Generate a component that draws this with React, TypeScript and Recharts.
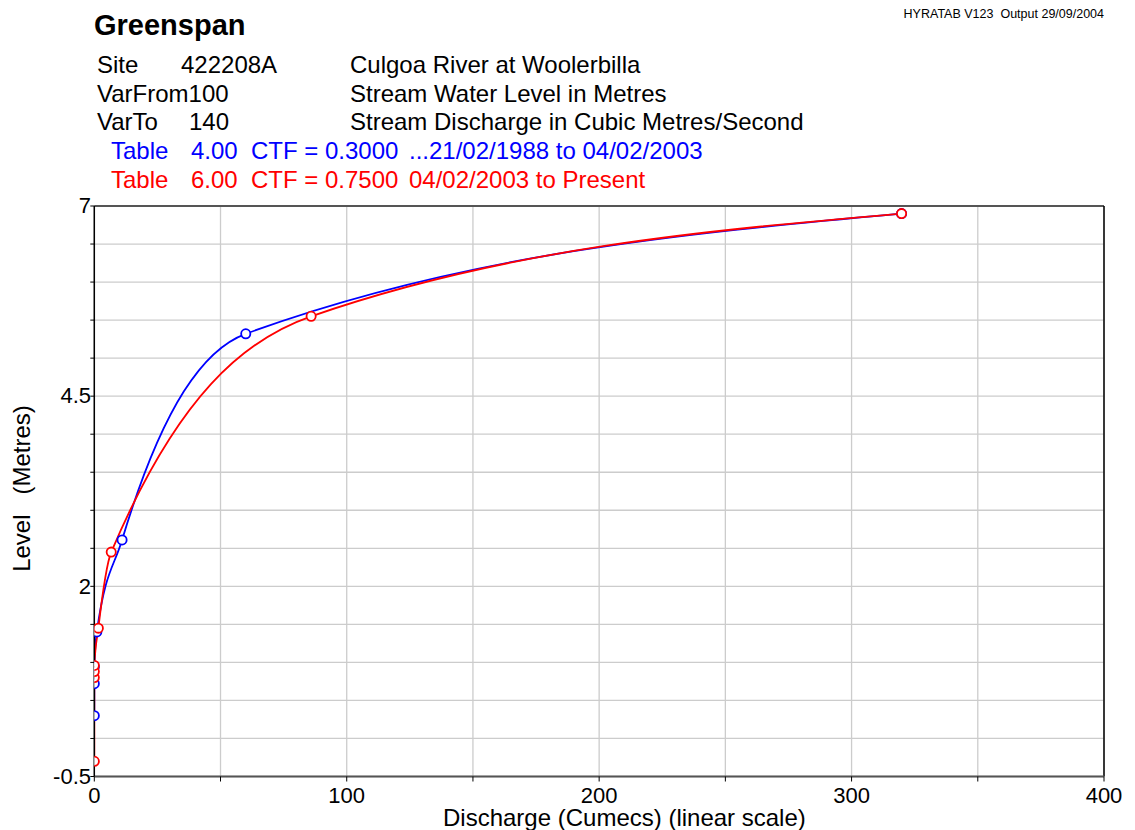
import React from "react";
import { LineChart, Line, XAxis, YAxis, CartesianGrid, ReferenceLine } from "recharts";

// Table 4.00 (blue) and Table 6.00 (red) rating points: discharge (cumecs) vs level (m)
const blueQ = [0, 0, 0, 1.0, 11.0, 60.0, 319.8];
const blueH = [0.3, 0.72, 0.94, 1.4, 2.61, 5.32, 6.9];
const redQ = [0, 0, 0, 0, 1.6, 6.7, 85.9, 319.8];
const redH = [-0.3, 0.8, 0.88, 0.96, 1.45, 2.45, 5.55, 6.9];

const xTicks = [0, 50, 100, 150, 200, 250, 300, 350, 400];
const xLabelled = [0, 100, 200, 300, 400];
const yTicks = [-0.5, 0, 0.5, 1, 1.5, 2, 2.5, 3, 3.5, 4, 4.5, 5, 5.5, 6, 6.5, 7];
const yLabelled = [-0.5, 2, 4.5, 7];

const blueData = blueQ.map((q, i) => ({ q, h: blueH[i] }));
const redData = redQ.map((q, i) => ({ q, h: redH[i] }));

const FONT = '"Liberation Sans", Arial, sans-serif';
const BLUE = "#0000ff";
const RED = "#ff0000";

function XTick(props: any) {
  const { x, y, payload } = props;
  if (!xLabelled.includes(payload.value)) return null;
  return (
    <text x={x} y={y + 19.5} textAnchor="middle" fontSize={22} fontFamily={FONT} fill="#000">
      {payload.value}
    </text>
  );
}

function YTick(props: any) {
  const { y, payload } = props;
  if (!yLabelled.includes(payload.value)) return null;
  return (
    <text x={91} y={y} dy="0.33em" textAnchor="end" fontSize={22} fontFamily={FONT} fill="#000">
      {payload.value}
    </text>
  );
}

function Dot(props: any) {
  const { cx, cy, stroke } = props;
  if (cx == null || cy == null) return null;
  return <circle cx={cx} cy={cy} r={4.6} stroke={stroke} strokeWidth={1.8} fill="#fff" />;
}

function Header() {
  const t = { fontFamily: FONT, fontSize: 24 } as const;
  return (
    <svg
      width={1135}
      height={830}
      style={{ position: "absolute", left: 0, top: 0, pointerEvents: "none" }}
    >
      <text x={94} y={35} fontFamily={FONT} fontSize={29} fontWeight="bold">
        Greenspan
      </text>
      <text x={1104} y={18} fontFamily={FONT} fontSize={12.5} textAnchor="end">
        <tspan>HYRATAB V123</tspan>
        <tspan dx={7}>Output 29/09/2004</tspan>
      </text>
      <g {...t} fill="#000">
        <text x={97} y={73}>Site</text>
        <text x={181} y={73}>422208A</text>
        <text x={350} y={73}>Culgoa River at Woolerbilla</text>
        <text x={97} y={101.5}>VarFrom100</text>
        <text x={350} y={101.5}>Stream Water Level in Metres</text>
        <text x={97} y={130}>VarTo</text>
        <text x={189} y={130}>140</text>
        <text x={350} y={130}>Stream Discharge in Cubic Metres/Second</text>
      </g>
      <g {...t} fill={BLUE}>
        <text x={111} y={158.5}>Table</text>
        <text x={191} y={158.5}>4.00</text>
        <text x={251} y={158.5}>CTF = 0.3000</text>
        <text x={409} y={158.5}>...21/02/1988 to 04/02/2003</text>
      </g>
      <g {...t} fill={RED}>
        <text x={111} y={187.5}>Table</text>
        <text x={191} y={187.5}>6.00</text>
        <text x={251} y={187.5}>CTF = 0.7500</text>
        <text x={409} y={187.5}>04/02/2003 to Present</text>
      </g>
      <text x={443} y={826} {...t} fill="#000">
        Discharge (Cumecs) (linear scale)
      </text>
      <text transform="translate(30,488.5) rotate(-90)" textAnchor="middle" {...t} fill="#000">
        <tspan>Level</tspan>
        <tspan dx={20}>(Metres)</tspan>
      </text>
    </svg>
  );
}

export default function App() {
  return (
    <div style={{ position: "absolute", left: 0, top: 0, width: 1135, height: 830, background: "#fff" }}>
      <LineChart
        width={1135}
        height={830}
        margin={{ top: 206, right: 31, bottom: 23.5, left: 54.3 }}
      >
        <CartesianGrid stroke="#cccccc" strokeWidth={1.3} />
        <XAxis
          type="number"
          dataKey="q"
          domain={[0, 400]}
          ticks={xTicks}
          interval={0}
          height={30}
          allowDataOverflow
          axisLine={{ stroke: "#555", strokeWidth: 2 }}
          tickLine={{ stroke: "#000" }}
          tickSize={5}
          tick={<XTick />}
        />
        <YAxis
          type="number"
          dataKey="h"
          domain={[-0.5, 7]}
          ticks={yTicks}
          interval={0}
          width={40}
          allowDataOverflow
          axisLine={{ stroke: "#000", strokeWidth: 1.5 }}
          tickLine={{ stroke: "#000" }}
          tickSize={4}
          tick={<YTick />}
        />
        <ReferenceLine y={7} stroke="#555" strokeWidth={2} />
        <ReferenceLine x={400} stroke="#000" strokeWidth={1.5} />
        <Line
          data={blueData}
          dataKey="h"
          type="monotone"
          stroke={BLUE}
          strokeWidth={1.8}
          dot={<Dot />}
          isAnimationActive={false}
        />
        <Line
          data={redData}
          dataKey="h"
          type="monotone"
          stroke={RED}
          strokeWidth={1.8}
          dot={<Dot />}
          isAnimationActive={false}
        />
      </LineChart>
      <Header />
    </div>
  );
}
